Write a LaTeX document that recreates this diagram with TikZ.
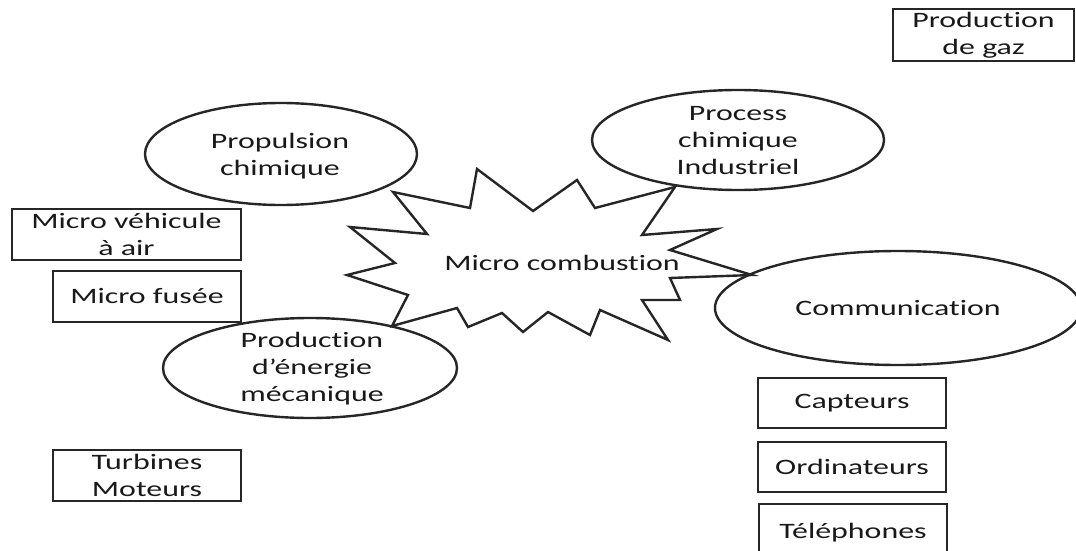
\documentclass[tikz,border=0pt]{standalone}
\usepackage{fontspec}
\setmainfont{Carlito}[FakeStretch=1.45, Ligatures={NoCommon,NoRare,NoContextual}]
\begin{document}
\begin{tikzpicture}[x=1pt,y=-1pt,
  txt/.style={font=\fontsize{22}{27}\selectfont, align=center, inner sep=0pt, text=black!90},
  boxn/.style={txt, draw=black!85, line width=2pt, minimum width=#1, minimum height=51},
  shapeline/.style={draw=black!85, line width=2.4pt, line join=miter}]
\useasboundingbox (0,0) rectangle (1076,551);

% ellipses
\coordinate (propc) at (281,154);
\coordinate (procc) at (738,140);
\coordinate (prodc) at (310,368);
\coordinate (commc) at (898,308);
\draw[shapeline] (propc) ellipse [x radius=136, y radius=51];
\draw[shapeline] (procc) ellipse [x radius=146, y radius=50];
\draw[shapeline] (prodc) ellipse [x radius=147, y radius=50];
\draw[shapeline] (commc) ellipse [x radius=183, y radius=57];

\node[txt] (prop) at (280,156) {Propulsion\\chimique};
\node[txt] (proc) at (738,141) {Process\\chimique\\Industriel};
\node[txt] (prod) at (312,369) {Production\\d’énergie\\mécanique};
\node[txt] (comm) at (898,308) {Communication};

% star
\draw[shapeline, fill=white] (393,192) -- (470,208) -- (477,169) -- (533,211) -- (577,180)
  -- (595,208) -- (675,187) -- (642,235) -- (717,229) -- (670,250) -- (752,275)
  -- (670,278) -- (680,300) -- (642,300) -- (668,340) -- (600,310) -- (590,335)
  -- (548,312) -- (523,332) -- (502,313) -- (468,327) -- (457,308) -- (392,326)
  -- (408,295) -- (347,275) -- (395,263) -- (350,227) -- (427,234) -- cycle;
\node[txt] (mc) at (562,263) {Micro combustion};

% boxes
\node[boxn=181, minimum height=52] (gaz) at (983.5,35) {Production\\de gaz};
\node[boxn=229] (mv) at (126.5,234.5) {Micro véhicule\\à air};
\node[boxn=188] (mf) at (147,296.5) {Micro fusée};
\node[boxn=188] (tm) at (147,475.5) {Turbines\\Moteurs};
\node[boxn=188, minimum height=50] (cap) at (852,403) {Capteurs};
\node[boxn=188, minimum height=50] (ord) at (852,467) {Ordinateurs};
\node[boxn=188, minimum height=57, anchor=north] (tel) at (853,503) {Téléphones};
\end{tikzpicture}
\end{document}
